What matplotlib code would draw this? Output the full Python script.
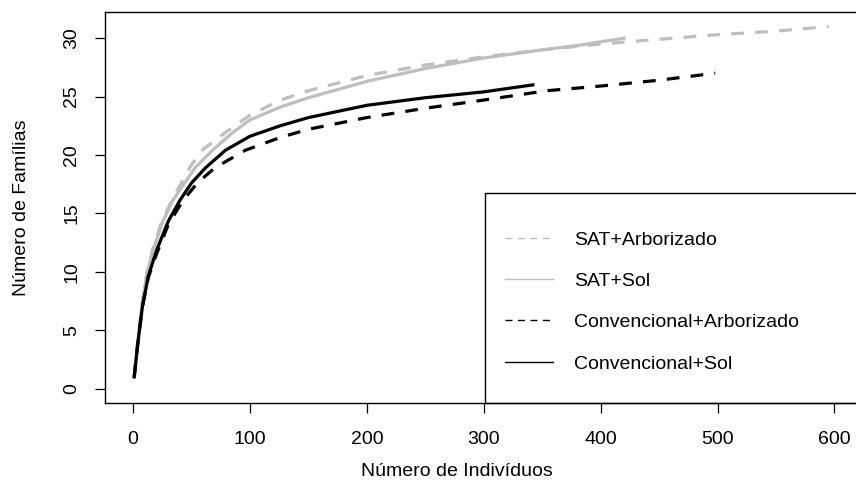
import matplotlib
matplotlib.use("Agg")
import matplotlib.pyplot as plt
from matplotlib.lines import Line2D
from matplotlib.patches import Rectangle

plt.rcParams["font.family"] = ["Liberation Sans", "DejaVu Sans"]

# --- curves (individuals vs families) ---
sat_arb_x = [1, 4, 8, 12, 17, 25, 34, 49, 59, 80, 100, 126, 150, 200, 250, 300, 350, 400, 450, 500, 550, 595]
sat_arb_y = [1, 4, 7.5, 10.0, 12.0, 14.4, 16.3, 19.0, 20.4, 22.0, 23.4, 24.7, 25.5, 26.8, 27.7, 28.4, 29.0, 29.5, 29.9, 30.3, 30.6, 31.0]

sat_sol_x = [1, 4, 8, 12, 17, 25, 34, 53, 68, 85, 100, 126, 150, 200, 250, 300, 350, 382, 420]
sat_sol_y = [1, 4, 7.5, 9.9, 11.8, 14.2, 16.1, 18.9, 20.4, 21.9, 23.0, 24.1, 24.9, 26.3, 27.4, 28.3, 29.0, 29.4, 30.0]

conv_arb_x = [1, 4, 8, 13, 20, 30, 42, 55, 70, 96, 126, 150, 200, 250, 300, 354, 400, 450, 498]
conv_arb_y = [1, 3.8, 7, 9.5, 11.5, 14.0, 16.0, 17.6, 18.9, 20.4, 21.5, 22.2, 23.2, 24.0, 24.7, 25.5, 25.9, 26.4, 27.0]

conv_sol_x = [1, 4, 8, 13, 20, 30, 40, 50, 62, 79, 100, 126, 150, 200, 250, 300, 342]
conv_sol_y = [1, 3.8, 7, 9.6, 11.8, 14.3, 16.1, 17.6, 18.9, 20.4, 21.6, 22.5, 23.2, 24.25, 24.9, 25.4, 26.0]

labels = ["SAT+Arborizado", "SAT+Sol", "Convencional+Arborizado", "Convencional+Sol"]
x_ticks = [0, 100, 200, 300, 400, 500, 600]
y_ticks = [0, 5, 10, 15, 20, 25, 30]

gray = "#bebebe"
fs = 14

fig = plt.figure(figsize=(8.56, 5.01), dpi=100)
# the right edge of the R plot box is cut off by the image border
px_per_x = 1.169
ax_w = 790
ax = fig.add_axes([105 / 856, 1 - 403 / 501, ax_w / 856, 391 / 501])

lw = 2.3
ax.plot(sat_arb_x, sat_arb_y, color=gray, lw=lw, linestyle=(0, (4, 3.5)))
ax.plot(sat_sol_x, sat_sol_y, color=gray, lw=lw)
ax.plot(conv_arb_x, conv_arb_y, color="black", lw=lw, linestyle=(0, (4, 3.5)))
ax.plot(conv_sol_x, conv_sol_y, color="black", lw=lw)

ax.set_xlim(-24, -24 + ax_w / px_per_x)
ax.set_ylim(-1.24, 32.24)
ax.set_xticks(x_ticks)
ax.set_yticks(y_ticks)
ax.set_yticklabels([str(v) for v in y_ticks], rotation=90, va="center")
ax.tick_params(axis="both", length=7, width=0.9, labelsize=fs)
ax.tick_params(axis="x", pad=13)
ax.tick_params(axis="y", pad=11)

for s in ax.spines.values():
    s.set_linewidth(1.0)
ax.spines["right"].set_visible(False)  # lies outside the image anyway

ax.set_xlabel("Número de Indivíduos", fontsize=fs)
ax.xaxis.set_label_coords((457 - 105) / ax_w, (403 - 472) / 391)
ax.set_ylabel("Número de Famílias", fontsize=fs)
ax.yaxis.set_label_coords((22 - 105) / ax_w, 0.5)
ax.xaxis.label.set_va("center")
ax.yaxis.label.set_va("center")

# legend box (bottom right, like R's legend)
ax.add_patch(Rectangle(((485 - 105) / ax_w, 0), 1.0, (403 - 193) / 391,
                       transform=ax.transAxes, fill=False, edgecolor="black",
                       lw=1.0, clip_on=False, zorder=5))
handles = [
    Line2D([], [], color=gray, lw=1, linestyle=(0, (5, 4))),
    Line2D([], [], color=gray, lw=1),
    Line2D([], [], color="black", lw=1, linestyle=(0, (5, 4))),
    Line2D([], [], color="black", lw=1),
]
ax.legend(handles, labels, loc="upper left", frameon=False, fontsize=fs,
          bbox_to_anchor=((505 - 105) / ax_w, (403 - 231) / 391),
          borderpad=0, borderaxespad=0, handlelength=2.45,
          handletextpad=1.1, labelspacing=1.22)

fig.savefig("out.png", dpi=100)
